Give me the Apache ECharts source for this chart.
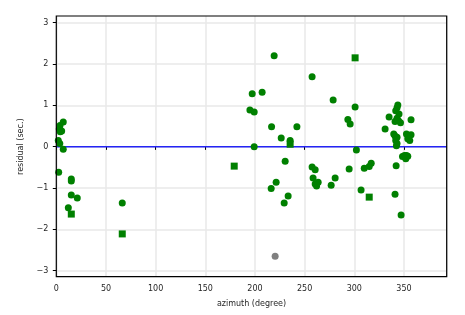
<!DOCTYPE html>
<html><head><meta charset="utf-8">
<script src="https://cdn.jsdelivr.net/npm/echarts@6/dist/echarts.min.js"></script>
<style>html,body{margin:0;padding:0;background:#fff}#c{width:465px;height:315px}</style>
</head><body><div id="c"></div>
<script>
const xTicks = [0, 50, 100, 150, 200, 250, 300, 350];
const yTicks = [-3, -2, -1, 0, 1, 2, 3];
const circles = [
  [7,0.6],[3.7,0.51],[3,0.43],[4,0.36],[5.4,0.38],[2,0.15],[3.5,0.08],[7,-0.06],[2.4,-0.62],
  [15.1,-0.78],[15.1,-0.83],[15.1,-1.17],[21.1,-1.24],[12.1,-1.48],[66.4,-1.36],
  [219.3,2.2],[257.5,1.69],[197.2,1.28],[207.2,1.32],[194.9,0.89],[199.2,0.84],[216.7,0.48],
  [242.2,0.48],[226.4,0.21],[235.4,0.15],[199.2,0.0],[230.4,-0.35],[216.3,-1.01],[221.3,-0.86],
  [233.4,-1.19],[229.4,-1.36],
  [257.5,-0.49],[260.6,-0.56],[258.5,-0.76],[260.6,-0.9],[262,-0.95],[263.6,-0.86],[276.7,-0.93],
  [280.7,-0.76],[294.8,-0.54],[302.1,-0.08],[306.8,-1.05],[310,-0.52],[315,-0.48],[317,-0.4],
  [278.7,1.13],[300.8,0.96],[293.5,0.66],[295.8,0.55],
  [331,0.43],[335,0.72],[341,-1.15],[347.1,-1.65],[342.1,-0.46],
  [343.8,1.01],[343,0.94],[341.7,0.87],[345,0.79],[343,0.69],[341,0.61],[346.5,0.58],[344.5,0.63],[357.1,0.65],
  [339.7,0.31],[341,0.26],[343,0.23],[341.7,0.15],[343,0.08],[342.4,0.02],
  [352.5,0.31],[357.1,0.29],[354.5,0.23],[355.8,0.15],[353.8,0.19],
  [348.5,-0.24],[350.5,-0.21],[352.5,-0.21],[351.8,-0.29],[353.8,-0.23]
];
const squares = [[15.1,-1.63],[66.4,-2.11],[179.1,-0.47],[235.4,0.06],[300.8,2.15],[315,-1.22]];
const greyPoints = [[220.3,-2.65]];
const refLine = [[0,0],[393,0]];

const FONT = 'DejaVu Sans';
const chart = echarts.init(document.getElementById('c'), null, {renderer:'canvas'});
const L = 56.3, R = 465-446.7, T0 = 16, B0 = 315-276.7, T1 = 22.7, B1 = 315-270.7;
chart.setOption({
  animation:false,
  grid:[
    {left:L, right:R, top:T0, bottom:B0},
    {left:L, right:R, top:T1, bottom:B1}
  ],
  xAxis:[
    {gridIndex:0, type:'value', min:0, max:393, interval:50,
     axisLine:{show:false},
     axisTick:{show:true, length:3.5, lineStyle:{color:'#000', width:1}},
     axisLabel:{fontFamily:FONT, fontSize:8, color:'#262626', margin:8, showMaxLabel:false,
       formatter:v => xTicks.includes(v) ? String(v) : ''},
     splitLine:{show:true, lineStyle:{color:'#e8e8e8', width:1.5}},
     name:'azimuth (degree)', nameLocation:'middle', nameGap:23,
     nameTextStyle:{fontFamily:FONT, fontSize:8, color:'#262626'}},
    {gridIndex:1, type:'value', min:0, max:393, show:false}
  ],
  yAxis:[
    {gridIndex:0, type:'value', min:-3.16, max:3.16, show:false},
    {gridIndex:1, type:'value', min:-3, max:3, interval:1,
     axisLine:{show:false},
     axisTick:{show:true, length:3.5, lineStyle:{color:'#000', width:1}},
     axisLabel:{fontFamily:FONT, fontSize:8, color:'#262626', margin:8,
       formatter:v => yTicks.includes(v) ? (v<0 ? '\u2212'+Math.abs(v) : String(v)) : ''},
     splitLine:{show:true, lineStyle:{color:'#e8e8e8', width:1.5}},
     name:'residual (sec.)', nameLocation:'middle', nameGap:31,
     nameTextStyle:{fontFamily:FONT, fontSize:8, color:'#262626'}}
  ],
  series:[
    {type:'line', xAxisIndex:1, yAxisIndex:1, data:refLine, symbol:'none', z:1,
     lineStyle:{color:'#2424f5', width:1.5}, silent:true},
    {type:'scatter', xAxisIndex:1, yAxisIndex:1, data:circles, symbol:'circle', symbolSize:7,
     itemStyle:{color:'#008000', opacity:1}, z:3},
    {type:'scatter', xAxisIndex:1, yAxisIndex:1, data:squares, symbol:'rect', symbolSize:7,
     itemStyle:{color:'#008000', opacity:1}, z:3},
    {type:'scatter', xAxisIndex:1, yAxisIndex:1, data:greyPoints, symbol:'circle', symbolSize:7,
     itemStyle:{color:'#808080', opacity:1}, z:3}
  ],
  graphic:[{type:'rect', z:100, shape:{x:L, y:T0, width:465-R-L, height:315-B0-T0},
    style:{fill:'none', stroke:'#000', lineWidth:1.2}}]
});
</script></body></html>
